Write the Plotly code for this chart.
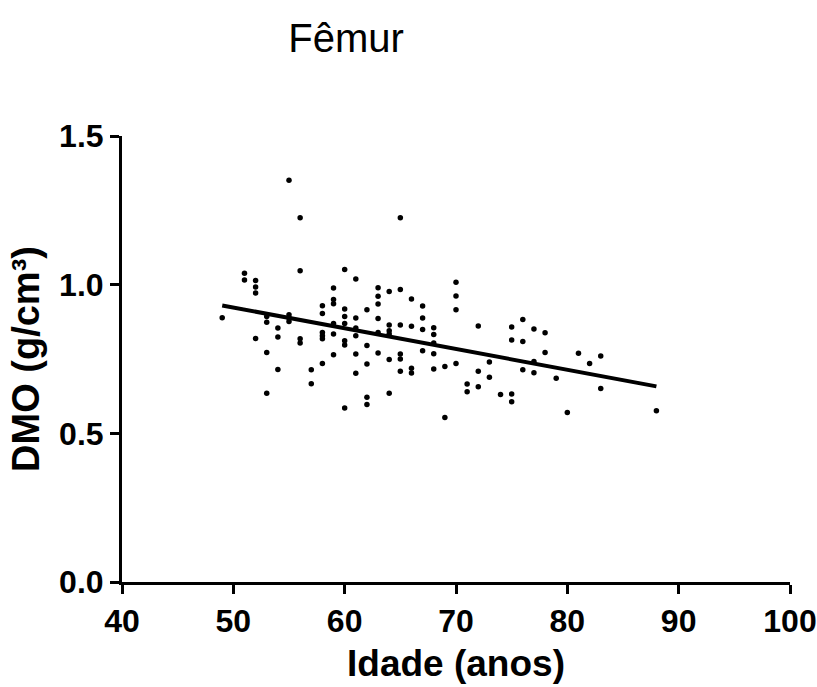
import plotly.graph_objects as go

# ---- data ----
ages = [49,
        51, 51,
        52, 52, 52, 52,
        53, 53, 53, 53,
        54, 54, 54,
        55, 55, 55, 55,
        56, 56, 56, 56,
        57, 57,
        58, 58, 58, 58, 58, 58,
        59, 59, 59, 59, 59, 59,
        60, 60, 60, 60, 60, 60, 60,
        61, 61, 61, 61, 61, 61,
        62, 62, 62, 62, 62,
        63, 63, 63, 63, 63, 63,
        64, 64, 64, 64, 64, 64,
        65, 65, 65, 65, 65, 65,
        66, 66, 66, 66,
        67, 67, 67, 67,
        68, 68, 68, 68, 68,
        69, 69,
        70, 70, 70, 70,
        71, 71,
        72, 72, 72,
        73, 73,
        74,
        75, 75, 75, 75,
        76, 76, 76,
        77, 77, 77,
        78, 78,
        79,
        80,
        81,
        82,
        83, 83,
        88]

dmo = [0.889,
       1.038, 1.016,
       1.014, 0.992, 0.972, 0.819,
       0.893, 0.874, 0.772, 0.635,
       0.854, 0.824, 0.715,
       1.351, 0.899, 0.888, 0.876,
       1.225, 1.047, 0.818, 0.804,
       0.714, 0.667,
       0.929, 0.903, 0.839, 0.828, 0.818, 0.735,
       0.989, 0.950, 0.936, 0.869, 0.834, 0.764,
       1.051, 0.918, 0.893, 0.869, 0.811, 0.797, 0.585,
       1.019, 0.888, 0.854, 0.828, 0.767, 0.702,
       0.916, 0.795, 0.733, 0.621, 0.597,
       0.990, 0.961, 0.935, 0.886, 0.839, 0.770,
       0.977, 0.864, 0.845, 0.834, 0.748, 0.635,
       1.225, 0.984, 0.864, 0.767, 0.750, 0.709,
       0.952, 0.860, 0.719, 0.703,
       0.928, 0.888, 0.849, 0.778,
       0.855, 0.832, 0.804, 0.768, 0.716,
       0.725, 0.553,
       1.008, 0.962, 0.916, 0.735,
       0.666, 0.640,
       0.861, 0.709, 0.657,
       0.740, 0.689,
       0.631,
       0.858, 0.814, 0.632, 0.606,
       0.883, 0.809, 0.714,
       0.851, 0.742, 0.704,
       0.838, 0.772,
       0.685,
       0.570,
       0.769,
       0.735,
       0.760, 0.651,
       0.576]

fit_x = [49, 88]
fit_y = [0.930, 0.658]

x_ticks = [40, 50, 60, 70, 80, 90, 100]
y_ticks = [0.0, 0.5, 1.0, 1.5]
y_ticktext = ["0.0", "0.5", "1.0", "1.5"]

FONT = "Liberation Sans, Arial, sans-serif"

fig = go.Figure()
fig.add_trace(go.Scatter(
    x=ages, y=dmo, mode="markers",
    marker=dict(color="black", size=5.5, line=dict(width=0)),
    showlegend=False, cliponaxis=False))
fig.add_trace(go.Scatter(
    x=fit_x, y=fit_y, mode="lines",
    line=dict(color="black", width=4),
    showlegend=False))

fig.update_layout(
    width=817, height=687,
    margin=dict(l=122, r=27, t=136, b=105),
    paper_bgcolor="white", plot_bgcolor="white",
    font=dict(family=FONT, color="black"),
    title=dict(text="Fêmur", x=346/817, xanchor="center", xref="container",
               y=1 - 38/687, yanchor="middle",
               font=dict(family=FONT, size=40, color="black")),
)
fig.update_xaxes(
    range=[40, 100], tickvals=x_ticks, ticktext=[str(v) for v in x_ticks],
    automargin=False,
    showgrid=False, zeroline=False,
    showline=True, linecolor="black", linewidth=3,
    ticks="outside", ticklen=9, tickwidth=3, tickcolor="black",
    tickfont=dict(family=FONT, size=32, color="black", weight="bold"),
    title=dict(text="<b>Idade (anos)</b>", standoff=12,
               font=dict(family=FONT, size=37, color="black")),
)
fig.update_yaxes(
    range=[0, 1.5], tickvals=y_ticks, ticktext=y_ticktext,
    automargin=False,
    showgrid=False, zeroline=False,
    showline=True, linecolor="black", linewidth=3,
    ticks="outside", ticklen=9, tickwidth=3, tickcolor="black",
    tickfont=dict(family=FONT, size=32, color="black", weight="bold"),
    title=dict(text="<b>DMO (g/cm³)</b>", standoff=8,
               font=dict(family=FONT, size=38, color="black")),
)

fig.write_html("out.html")
